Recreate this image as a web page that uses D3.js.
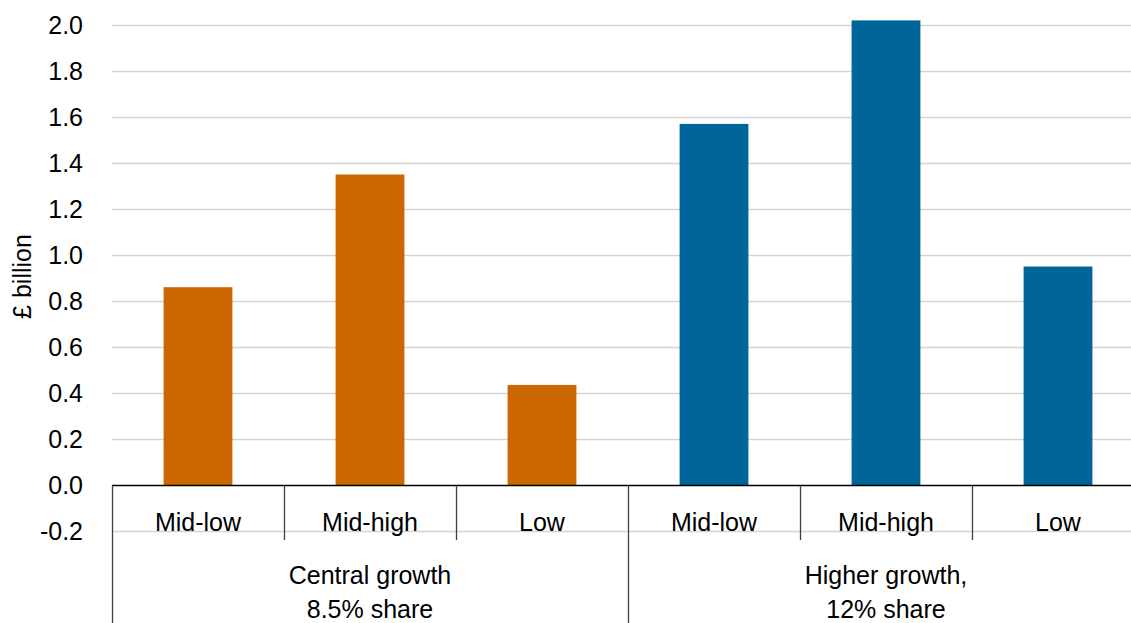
<!DOCTYPE html>
<html>
<head>
<meta charset="utf-8">
<script src="https://cdn.jsdelivr.net/npm/d3@7"></script>
<style>
  html, body { margin: 0; padding: 0; background: #fff; }
  svg { display: block; font-family: "Liberation Sans", Arial, sans-serif; }
</style>
</head>
<body>
<svg id="chart" width="1131" height="623"></svg>
<script>
// Scenario results, £ billion
const scenarios = ["Mid-low", "Mid-high", "Low"];
const groupTitles = [["Central growth", "8.5% share"], ["Higher growth,", "12% share"]];
const centralValues = [0.86, 1.35, 0.435];
const higherValues = [1.57, 2.02, 0.95];
const groupColors = ["#cc6600", "#006699"];
const yTicks = [-0.2, 0.0, 0.2, 0.4, 0.6, 0.8, 1.0, 1.2, 1.4, 1.6, 1.8, 2.0];
const yTickLabels = ["-0.2", "0.0", "0.2", "0.4", "0.6", "0.8", "1.0", "1.2", "1.4", "1.6", "1.8", "2.0"];

const seriesByGroup = [centralValues, higherValues];
const rows = [];
seriesByGroup.forEach((vals, g) => {
  vals.forEach((v, i) => rows.push({ key: g + "-" + i, group: g, scenario: scenarios[i], value: v }));
});

const svg = d3.select("#chart");
const width = 1131, height = 623;
const left = 112, right = 1144, topY = 25, bottomY = 531;

const x = d3.scaleBand()
  .domain(rows.map(d => d.key))
  .range([left, right])
  .paddingInner(0.6)
  .paddingOuter(0.3);

const y = d3.scaleLinear()
  .domain([-0.2, 2.0])
  .range([bottomY, topY]);

const step = x.step();

// Horizontal gridlines
svg.append("g")
  .selectAll("line")
  .data(yTicks.filter(t => t !== 0))
  .join("line")
  .attr("x1", left)
  .attr("x2", width)
  .attr("y1", d => Math.round(y(d)) + 0.5)
  .attr("y2", d => Math.round(y(d)) + 0.5)
  .attr("stroke", "#d4d4d4")
  .attr("stroke-width", 1.3);

// Y tick labels
const yAxis = d3.axisLeft(y)
  .tickValues(yTicks)
  .tickFormat((d, i) => yTickLabels[i])
  .tickSize(0)
  .tickPadding(29);
const yg = svg.append("g").attr("transform", `translate(${left},0)`).call(yAxis);
yg.select(".domain").remove();
yg.selectAll("text")
  .attr("font-size", 25)
  .attr("font-family", "Liberation Sans, Arial, sans-serif")
  .attr("fill", "#000");

// Y axis title
svg.append("text")
  .attr("transform", `translate(31,${(233 + 320) / 2}) rotate(-90)`)
  .attr("text-anchor", "middle")
  .attr("font-size", 25)
  .attr("fill", "#000")
  .text("£ billion");

// Bars
svg.append("g")
  .selectAll("rect")
  .data(rows)
  .join("rect")
  .attr("x", d => x(d.key))
  .attr("width", x.bandwidth())
  .attr("y", d => y(Math.max(0, d.value)))
  .attr("height", d => Math.abs(y(d.value) - y(0)))
  .attr("fill", d => groupColors[d.group]);

// Category axis line at zero
const y0 = Math.round(y(0)) + 0.5;
svg.append("line")
  .attr("x1", left).attr("x2", width)
  .attr("y1", y0).attr("y2", y0)
  .attr("stroke", "#000").attr("stroke-width", 1.3);

// Dividers between scenarios (short) and between groups (full height)
const boundaries = d3.range(rows.length + 1).map(i => left + i * step);
svg.append("g")
  .selectAll("line")
  .data(boundaries.filter(b => b <= width))
  .join("line")
  .attr("x1", d => Math.round(d) + 0.5)
  .attr("x2", d => Math.round(d) + 0.5)
  .attr("y1", y0)
  .attr("y2", (d, i) => (i % scenarios.length === 0) ? height : 540)
  .attr("stroke", "#404040")
  .attr("stroke-width", 1.3);

// Scenario labels
svg.append("g")
  .selectAll("text")
  .data(rows)
  .join("text")
  .attr("x", d => x(d.key) + x.bandwidth() / 2)
  .attr("y", 531)
  .attr("text-anchor", "middle")
  .attr("font-size", 25)
  .attr("fill", "#000")
  .text(d => d.scenario);

// Group labels, centred under each group of three scenarios
groupTitles.forEach((lines, g) => {
  const cx = left + (g * scenarios.length + scenarios.length / 2) * step;
  const t = svg.append("text")
    .attr("text-anchor", "middle")
    .attr("font-size", 25)
    .attr("fill", "#000");
  lines.forEach((line, k) => {
    t.append("tspan").attr("x", cx).attr("y", 584 + k * 34).text(line);
  });
});
</script>
</body>
</html>
